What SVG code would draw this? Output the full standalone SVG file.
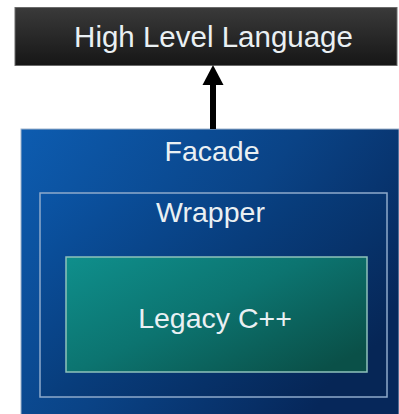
<svg xmlns="http://www.w3.org/2000/svg" width="399" height="414" viewBox="0 0 399 414">
<defs>
<linearGradient id="gTop" x1="0" y1="0" x2="0" y2="1">
<stop offset="0" stop-color="#3a3a3a"/>
<stop offset="1" stop-color="#161616"/>
</linearGradient>
<linearGradient id="gFac" x1="0" y1="0" x2="1" y2="0.6">
<stop offset="0" stop-color="#0d5cb0"/>
<stop offset="0.55" stop-color="#0a4386"/>
<stop offset="1" stop-color="#06275a"/>
</linearGradient>
<linearGradient id="gWrap" x1="0" y1="0" x2="1" y2="0.7">
<stop offset="0" stop-color="#0b55a6"/>
<stop offset="0.5" stop-color="#083d7c"/>
<stop offset="1" stop-color="#062656"/>
</linearGradient>
<linearGradient id="gLeg" x1="0" y1="0" x2="1" y2="0.8">
<stop offset="0" stop-color="#0f8f8c"/>
<stop offset="0.5" stop-color="#0c7470"/>
<stop offset="1" stop-color="#0a5048"/>
</linearGradient>
<style>
text{font-family:"Liberation Sans",Arial,sans-serif;fill:#eaf0f3;text-anchor:middle;font-size:28.5px}
</style>
</defs>
<g id="high-level-language">
<rect x="15" y="7.5" width="382" height="58" fill="url(#gTop)" stroke="#6a6a6a" stroke-width="1"/>
<text x="213.5" y="47" style="font-size:29.5px">High Level Language</text>
</g>
<g id="facade">
<rect x="21" y="129" width="378" height="290" fill="url(#gFac)" stroke="#9fb4cc" stroke-width="1"/>
<text x="212" y="161">Facade</text>
</g>
<g id="wrapper">
<rect x="40" y="193" width="347" height="204" fill="url(#gWrap)" stroke="#8eaacb" stroke-width="1.5"/>
<text x="210.5" y="222">Wrapper</text>
</g>
<g id="legacy">
<rect x="66" y="257" width="301" height="115" fill="url(#gLeg)" stroke="#8fc2bb" stroke-width="1.5"/>
<text x="215" y="328">Legacy C++</text>
</g>
<g id="connectors">
<rect x="210" y="83" width="6" height="46" fill="#000"/>
<polygon points="213,65 223.5,85 202.5,85" fill="#000"/>
</g>
</svg>
